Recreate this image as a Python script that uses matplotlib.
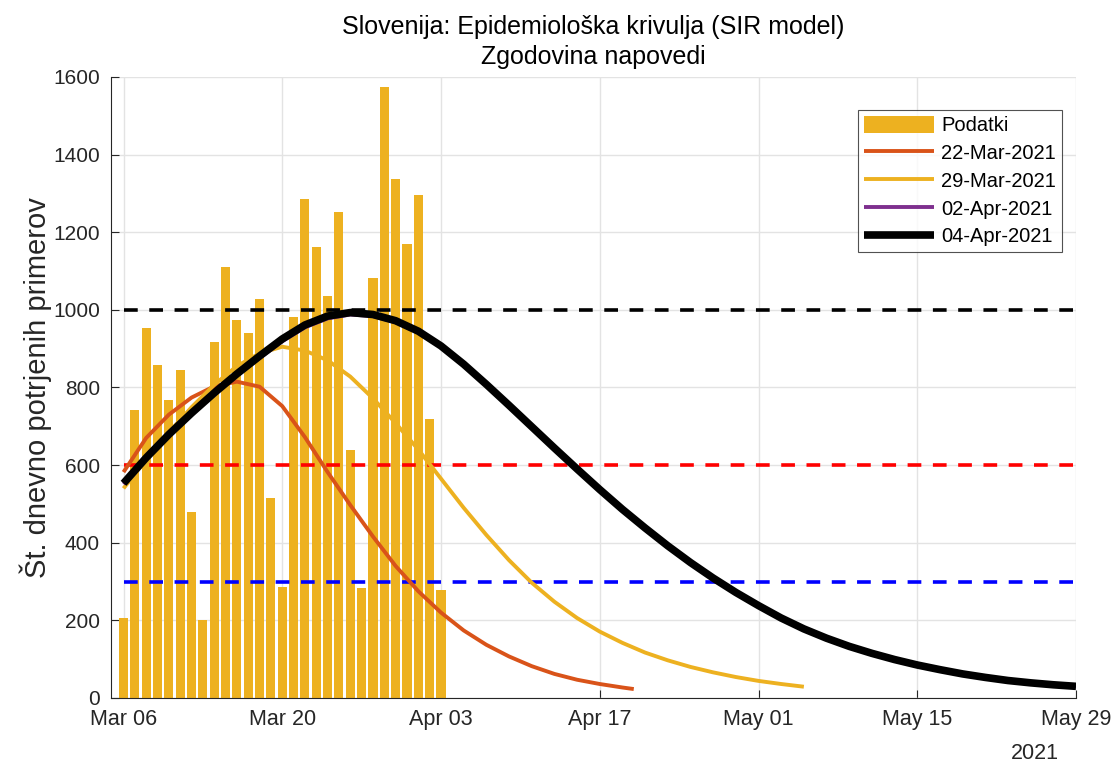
import numpy as np
import pandas as pd
import matplotlib
matplotlib.use('Agg')
import matplotlib.pyplot as plt
import matplotlib.dates as mdates

plt.rcParams['font.family'] = ['Liberation Sans', 'DejaVu Sans']

# daily confirmed cases, Mar 06 - Apr 03 2021
start = pd.Timestamp('2021-03-06')
cases = [205, 741, 953, 858, 769, 846, 479, 201, 918, 1111, 973, 940, 1027, 514,
         286, 982, 1286, 1163, 1036, 1253, 639, 284, 1081, 1573, 1337, 1169, 1296,
         718, 279]

# SIR forecasts (days after Mar 06, daily cases)
days_22mar = [0, 2, 4, 6, 8, 10, 12, 14, 16, 18, 20, 22, 24, 26, 28, 30, 32, 34,
              36, 38, 40, 42, 44, 45]
fc_22mar = [582, 670, 730, 774, 803, 815, 802, 752, 672, 582, 497, 416, 340, 275,
            220, 174, 137, 107, 82, 62, 47, 36, 27, 23]

days_29mar = list(range(0, 61, 2))
fc_29mar = [540, 614, 684, 749, 807, 855, 888, 905, 895, 870, 828, 772, 708, 640,
            565, 490, 420, 355, 297, 248, 206, 171, 142, 117, 97, 80, 66, 54, 44,
            36, 29]

days_02apr = list(range(0, 85, 2))
fc_02apr = [551, 617, 677, 731, 782, 831, 876, 919, 955, 978, 988, 984, 968, 942,
            905, 859, 807, 754, 699, 644, 590, 537, 486, 438, 392, 349, 309, 272,
            238, 206, 178, 154, 133, 115, 99, 85, 73, 62, 53, 45, 39, 34, 30]

days_04apr = list(range(0, 85, 2))
fc_04apr = [553, 619, 679, 734, 786, 835, 881, 925, 961, 984, 993, 988, 972, 945,
            907, 860, 808, 754, 699, 644, 590, 537, 486, 438, 392, 349, 309, 272,
            238, 206, 178, 154, 133, 115, 99, 85, 73, 62, 53, 45, 39, 34, 30]

# reference levels
levels = [1000, 600, 300]
level_colors = ['black', 'red', 'blue']
end = pd.Timestamp('2021-05-29')


def to_dates(days):
    return start + pd.to_timedelta(days, unit='D')


fig = plt.figure(figsize=(11.17, 7.66), dpi=100)
ax = fig.add_axes([0.0994, 0.0888, 0.8639, 0.8107])

bar_dates = pd.date_range(start, periods=len(cases), freq='D')
h_bar = ax.bar(bar_dates, cases, width=0.8, color='#EDB120', label='Podatki', zorder=2)

for lvl, c in zip(levels, level_colors):
    ax.plot([start, end], [lvl, lvl], color=c, lw=2.6, dashes=(3.8, 3.2), zorder=3)

line_kw = dict(solid_joinstyle='round', solid_capstyle='butt')
h1, = ax.plot(to_dates(days_22mar), fc_22mar, color='#D95319', lw=2.8,
              label='22-Mar-2021', zorder=4, **line_kw)
h2, = ax.plot(to_dates(days_29mar), fc_29mar, color='#EDB120', lw=2.8,
              label='29-Mar-2021', zorder=4, **line_kw)
h3, = ax.plot(to_dates(days_02apr), fc_02apr, color='#7E2F8E', lw=2.8,
              label='02-Apr-2021', zorder=5, **line_kw)
h4, = ax.plot(to_dates(days_04apr), fc_04apr, color='black', lw=5.5,
              label='04-Apr-2021', zorder=6, **line_kw)

ax.set_xlim(start - pd.Timedelta(days=1.1), end)
ax.set_ylim(0, 1600)
ax.set_yticks(np.arange(0, 1601, 200))
ax.set_xticks(pd.date_range(start, end, freq='14D'))
ax.xaxis.set_major_formatter(mdates.DateFormatter('%b %d'))

ax.grid(True, color='#e3e3e3', lw=1, zorder=0)
ax.set_axisbelow(True)
for s in ['top', 'right']:
    ax.spines[s].set_visible(False)
for s in ['left', 'bottom']:
    ax.spines[s].set_color('#262626')
ax.tick_params(direction='in', length=6, colors='#262626', pad=8)
ax.tick_params(axis='x', labelsize=15.5)
ax.tick_params(axis='y', labelsize=15)

ax.set_ylabel('Št. dnevno potrjenih primerov', fontsize=21, color='#262626',
              labelpad=1)
ax.set_title('Slovenija: Epidemiološka krivulja (SIR model)\nZgodovina napovedi',
             fontsize=18, color='black', linespacing=1.35, pad=9)
ax.text(0.957, -0.072, '2021', transform=ax.transAxes, fontsize=15.5,
        color='#262626', ha='center', va='top')

leg = ax.legend([h_bar, h1, h2, h3, h4],
                ['Podatki', '22-Mar-2021', '29-Mar-2021', '02-Apr-2021', '04-Apr-2021'],
                loc='upper right', bbox_to_anchor=(0.9855, 0.947), fontsize=14.5,
                frameon=True, fancybox=False, edgecolor='#262626',
                handlelength=3.5, handleheight=0.9, borderpad=0.3,
                labelspacing=0.42, handletextpad=0.35, borderaxespad=0)
leg.get_frame().set_linewidth(0.8)

fig.savefig('out.png', dpi=100)
